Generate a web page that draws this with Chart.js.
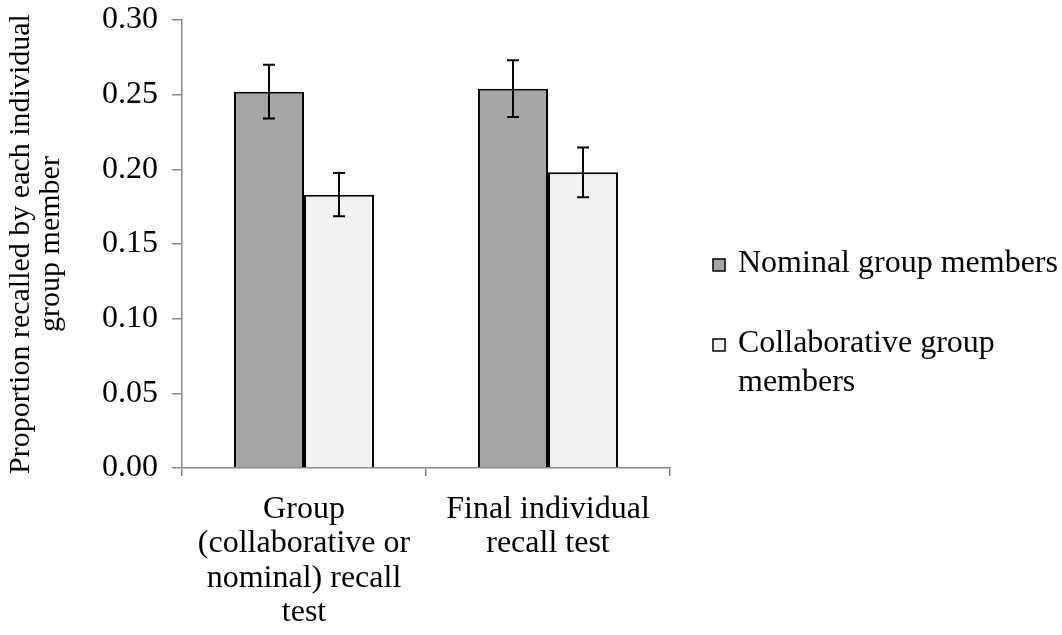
<!DOCTYPE html>
<html>
<head>
<meta charset="utf-8">
<script src="https://cdn.jsdelivr.net/npm/chart.js@4"></script>
<style>
  body { margin: 0; background: #fff; }
  #wrap { width: 1062px; height: 635px; }
</style>
</head>
<body>
<div id="wrap"><canvas id="myChart" width="1062" height="635"></canvas></div>
<script>
// data
const categories = [
  ['Group', '(collaborative or', 'nominal) recall', 'test'],
  ['Final individual', 'recall test']
];
const seriesNames = ['Nominal group members', ['Collaborative group', 'members']];
const nominalValues = [0.252, 0.254];
const nominalErrors = [0.018, 0.019];
const collabValues = [0.183, 0.198];
const collabErrors = [0.0145, 0.0167];
const yTicks = [0, 0.05, 0.10, 0.15, 0.20, 0.25, 0.30];

const serif = "'Liberation Serif', 'Times New Roman', serif";
const axisGrey = '#888888';

// draws error bars from each dataset's "errors" array
const errorBars = {
  id: 'errorBars',
  afterDatasetsDraw(chart) {
    const ctx = chart.ctx;
    const y = chart.scales.y;
    chart.data.datasets.forEach((ds, i) => {
      const meta = chart.getDatasetMeta(i);
      meta.data.forEach((bar, j) => {
        const v = ds.data[j], e = ds.errors[j];
        const top = y.getPixelForValue(v + e);
        const bot = y.getPixelForValue(v - e);
        ctx.save();
        ctx.strokeStyle = '#000';
        ctx.lineWidth = 2;
        ctx.beginPath();
        ctx.moveTo(bar.x, top); ctx.lineTo(bar.x, bot);
        ctx.moveTo(bar.x - 6, top); ctx.lineTo(bar.x + 6, top);
        ctx.moveTo(bar.x - 6, bot); ctx.lineTo(bar.x + 6, bot);
        ctx.stroke();
        ctx.restore();
      });
    });
  }
};

// legend on the right, with wrapped second label
const sideLegend = {
  id: 'sideLegend',
  afterDraw(chart) {
    const ctx = chart.ctx;
    const x0 = 713;
    const rows = [265, 345];
    ctx.save();
    ctx.font = '32px ' + serif;
    ctx.textBaseline = 'middle';
    chart.data.datasets.forEach((ds, i) => {
      const yy = rows[i];
      ctx.fillStyle = ds.backgroundColor;
      ctx.fillRect(x0, yy - 6, 12, 12);
      ctx.strokeStyle = '#000';
      ctx.lineWidth = 1.5;
      ctx.strokeRect(x0, yy - 6, 12, 12);
      ctx.fillStyle = '#000';
      const lines = Array.isArray(seriesNames[i]) ? seriesNames[i] : [seriesNames[i]];
      lines.forEach((t, k) => ctx.fillText(t, x0 + 25, yy - 1 + k * 39));
    });
    ctx.restore();
  }
};

const ctx = document.getElementById('myChart').getContext('2d');
const myChart = new Chart(ctx, {
  type: 'bar',
  data: {
    labels: categories,
    datasets: [{
      label: 'Nominal group members',
      data: nominalValues,
      errors: nominalErrors,
      backgroundColor: '#a6a6a6',
      borderColor: '#000',
      borderWidth: 2,
      borderSkipped: 'bottom'
    }, {
      label: 'Collaborative group members',
      data: collabValues,
      errors: collabErrors,
      backgroundColor: '#f2f2f2',
      borderColor: '#000',
      borderWidth: 2,
      borderSkipped: 'bottom'
    }]
  },
  options: {
    responsive: false,
    animation: false,
    layout: { padding: { top: 20, right: 392, left: 0, bottom: 0 } },
    datasets: { bar: { categoryPercentage: 0.574, barPercentage: 1.0 } },
    plugins: {
      legend: { display: false },
      tooltip: { enabled: false }
    },
    scales: {
      x: {
        grid: { display: true, drawOnChartArea: false, offset: true, tickLength: 8, color: axisGrey, lineWidth: 1.5 },
        border: { color: axisGrey, width: 1.5 },
        ticks: {
          color: '#000',
          font: { family: serif, size: 32, lineHeight: 1.08 },
          padding: 16,
          maxRotation: 0,
          autoSkip: false
        },
        afterFit(scale) { scale.height = 167; }
      },
      y: {
        min: 0,
        max: 0.30,
        afterBuildTicks(scale) { scale.ticks = yTicks.map(v => ({ value: v })); },
        grid: { display: true, drawOnChartArea: false, tickLength: 10, color: axisGrey, lineWidth: 1.5 },
        border: { color: axisGrey, width: 1.5 },
        ticks: {
          color: '#000',
          font: { family: serif, size: 32 },
          padding: 14,
          callback: (v) => Number(v).toFixed(2)
        },
        title: {
          display: true,
          text: ['Proportion recalled by each individual', 'group member'],
          color: '#000',
          font: { family: serif, size: 30, lineHeight: 1.0 },
          padding: { top: 6, bottom: 0 }
        },
        afterFit(scale) {
          scale.width = 182;
          scale.paddingTop = 0;
          scale.paddingBottom = 0;
        }
      }
    }
  },
  plugins: [errorBars, sideLegend]
});
</script>
</body>
</html>
